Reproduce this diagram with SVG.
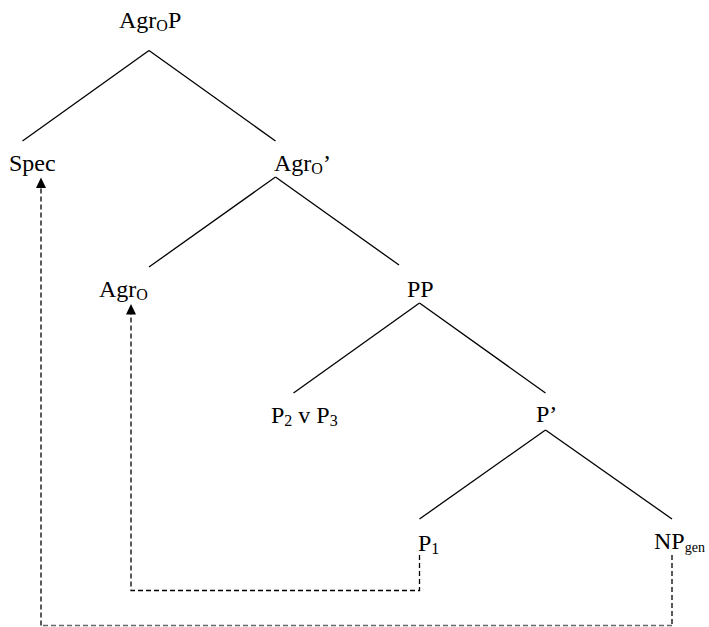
<svg xmlns="http://www.w3.org/2000/svg" width="709" height="627" viewBox="0 0 709 627">
<style>
text{font-family:"Liberation Serif","Times New Roman",serif;font-size:24px;fill:#000}
.sub{font-size:16px}
.sub2{font-size:14px}
.edge{stroke:#000;stroke-width:1.3;fill:none}
.move{stroke:#000;stroke-width:1.3;fill:none;stroke-dasharray:5 3}
.moveg{stroke:#666;stroke-width:1.3;fill:none;stroke-dasharray:5 3}
.head{fill:#000}
</style>
<rect width="709" height="627" fill="#fff"/>
<g id="edges">
<line class="edge" x1="149" y1="50.5" x2="22.5" y2="141"/>
<line class="edge" x1="149" y1="50.5" x2="275.5" y2="141"/>
<line class="edge" x1="275.5" y1="177" x2="149" y2="267"/>
<line class="edge" x1="275.5" y1="177" x2="399" y2="265"/>
<line class="edge" x1="419.5" y1="303" x2="293.5" y2="393"/>
<line class="edge" x1="419.5" y1="303" x2="545.5" y2="393"/>
<line class="edge" x1="545.5" y1="430" x2="419.5" y2="519"/>
<line class="edge" x1="545.5" y1="430" x2="672" y2="519"/>
</g>
<g id="movements">
<path class="move" d="M419.5,555 V590.5 H131 V314"/>
<polygon class="head" points="131,304 126,314.5 136,314.5"/>
<line class="move" x1="672" y1="555" x2="672" y2="625.5"/>
<line class="moveg" x1="672" y1="625.5" x2="41" y2="625.5"/>
<path class="move" d="M41,625.5 V188"/>
<polygon class="head" points="41,177.5 36,188 46,188"/>
</g>
<g id="n-agrop"><text x="119" y="27.5">Agr<tspan class="sub" dy="3">O</tspan><tspan dy="-3">P</tspan></text></g>
<g id="n-spec"><text x="9" y="171">Spec</text></g>
<g id="n-agrobar"><text x="274" y="171">Agr<tspan class="sub" dy="3">O</tspan><tspan dy="-3">’</tspan></text></g>
<g id="n-agro"><text x="99" y="297">Agr<tspan class="sub" dy="3">O</tspan></text></g>
<g id="n-pp"><text x="407" y="297">PP</text></g>
<g id="n-p2p3"><text x="271" y="423">P<tspan class="sub" dy="3">2</tspan><tspan dy="-3"> v P</tspan><tspan class="sub" dy="3">3</tspan></text></g>
<g id="n-pbar"><text x="536" y="422">P’</text></g>
<g id="n-p1"><text x="418" y="551">P<tspan class="sub" dy="3">1</tspan></text></g>
<g id="n-npgen"><text x="654" y="549">NP<tspan class="sub2" dy="3">gen</tspan></text></g>
</svg>
